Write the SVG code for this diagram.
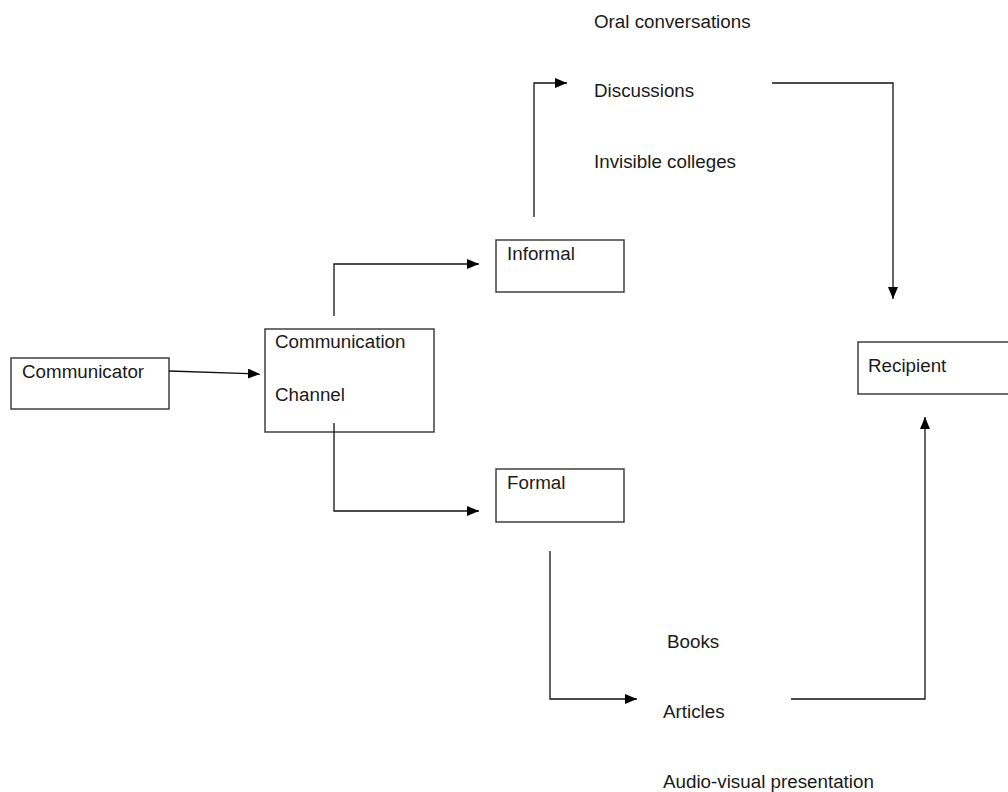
<svg xmlns="http://www.w3.org/2000/svg" width="1008" height="792" viewBox="0 0 1008 792">
<style>
.box{fill:#fff;stroke:#333;stroke-width:1.4}
.t{font-family:"Liberation Sans",Arial,sans-serif;font-size:18.8px;fill:#1a1a1a}
.c{fill:none;stroke:#111;stroke-width:1.3}
</style>
<defs>
<marker id="ah" markerUnits="userSpaceOnUse" markerWidth="13" markerHeight="11" refX="12" refY="5" orient="auto">
<path d="M0,0 L12,5 L0,10 z" fill="#000"/>
</marker>
</defs>
<rect width="1008" height="792" fill="#fff"/>
<g id="communicator">
<rect class="box" x="11" y="358" width="158" height="51"/>
<text class="t" x="22" y="378">Communicator</text>
</g>
<g id="channel">
<rect class="box" x="265" y="329" width="169" height="103"/>
<text class="t" x="275" y="348">Communication</text>
<text class="t" x="275" y="401">Channel</text>
</g>
<g id="informal">
<rect class="box" x="496" y="240" width="128" height="52"/>
<text class="t" x="507" y="260">Informal</text>
</g>
<g id="formal">
<rect class="box" x="496" y="469" width="128" height="53"/>
<text class="t" x="507" y="489">Formal</text>
</g>
<g id="recipient">
<rect class="box" x="858" y="342" width="160" height="52"/>
<text class="t" x="868" y="372">Recipient</text>
</g>
<g id="informal-items">
<text class="t" x="594" y="28">Oral conversations</text>
<text class="t" x="594" y="97">Discussions</text>
<text class="t" x="594" y="168">Invisible colleges</text>
</g>
<g id="formal-items">
<text class="t" x="667" y="648">Books</text>
<text class="t" x="663" y="718">Articles</text>
<text class="t" x="663" y="788">Audio-visual presentation</text>
</g>
<g id="connectors">
<path class="c" d="M169,371 L260,374" marker-end="url(#ah)"/>
<path class="c" d="M334,316 V264 H479" marker-end="url(#ah)"/>
<path class="c" d="M334,423 V511 H479" marker-end="url(#ah)"/>
<path class="c" d="M534,217 V83 H567" marker-end="url(#ah)"/>
<path class="c" d="M772,83 H893 V299" marker-end="url(#ah)"/>
<path class="c" d="M550,551 V699 H637" marker-end="url(#ah)"/>
<path class="c" d="M791,699 H925 V417" marker-end="url(#ah)"/>
</g>
</svg>
